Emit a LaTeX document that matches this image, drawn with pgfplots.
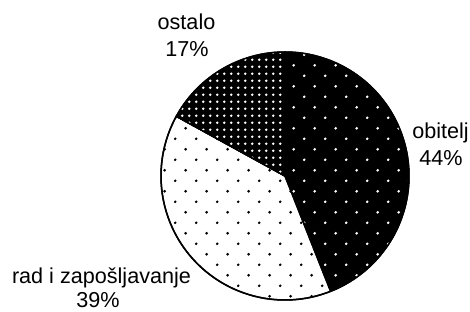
\documentclass[border=0pt]{standalone}
\usepackage{pgfplots}
\pgfplotsset{compat=1.18}
\usetikzlibrary{patterns}
\usepackage{fontspec}
\setmainfont{Liberation Sans}

\pgfdeclarepatternformonly{sparsedots}{\pgfqpoint{0pt}{0pt}}{\pgfqpoint{21.4pt}{21.4pt}}{\pgfqpoint{21.4pt}{21.4pt}}{%
  \pgfpathcircle{\pgfqpoint{5.35pt}{5.35pt}}{1.5pt}%
  \pgfpathcircle{\pgfqpoint{16.05pt}{16.05pt}}{1.5pt}%
  \pgfusepath{fill}}
\pgfdeclarepatternformonly{densedots}{\pgfqpoint{0pt}{0pt}}{\pgfqpoint{7.2pt}{7.2pt}}{\pgfqpoint{7.2pt}{7.2pt}}{%
  \pgfpathcircle{\pgfqpoint{3.6pt}{3.6pt}}{1.5pt}%
  \pgfusepath{fill}}

\tikzset{lbl/.style={font=\fontsize{21.6}{26}\selectfont, inner sep=0pt, anchor=base}}

\begin{document}
\begin{tikzpicture}
% shares in percent
\def\vObitelj{44}
\def\vRad{39}
\def\vOstalo{17}
\def\cx{285}
\def\cy{135}
\def\r{124}
\pgfmathsetmacro{\aA}{90}
\pgfmathsetmacro{\aB}{\aA-3.6*\vObitelj}
\pgfmathsetmacro{\aC}{\aB-3.6*\vRad}
\pgfmathsetmacro{\aD}{\aC-3.6*\vOstalo}
\begin{axis}[
  x=1pt, y=1pt,
  xmin=0, xmax=470, ymin=0, ymax=311,
  hide axis, clip=false,
]
% obitelj
\addplot[fill=black, draw=black, line width=1.5pt, line join=round,
  postaction={pattern=sparsedots, pattern color=white},
  domain=\aB:\aA, samples=120, variable=\t]
  ({\cx+\r*cos(t)},{\cy+\r*sin(t)}) -- (axis cs:\cx,\cy) -- cycle;
% rad i zaposljavanje
\addplot[fill=white, draw=black, line width=1.5pt, line join=round,
  postaction={pattern=sparsedots, pattern color=black},
  domain=\aC:\aB, samples=120, variable=\t]
  ({\cx+\r*cos(t)},{\cy+\r*sin(t)}) -- (axis cs:\cx,\cy) -- cycle;
% ostalo
\addplot[fill=black, draw=black, line width=1.5pt, line join=round,
  postaction={pattern=densedots, pattern color=white},
  domain=\aD:\aC, samples=60, variable=\t]
  ({\cx+\r*cos(t)},{\cy+\r*sin(t)}) -- (axis cs:\cx,\cy) -- cycle;

\node[lbl] at (axis cs:186.5,281.5) {ostalo};
\node[lbl] at (axis cs:187,254) {17\%};
\node[lbl] at (axis cs:440.5,173) {obitelj};
\node[lbl] at (axis cs:441,146) {44\%};
\node[lbl] at (axis cs:101.5,28) {rad i zapošljavanje};
\node[lbl] at (axis cs:98,4) {39\%};
\end{axis}
\pgfresetboundingbox
\useasboundingbox (current axis.south west) rectangle (current axis.north east);
\end{tikzpicture}
\end{document}
